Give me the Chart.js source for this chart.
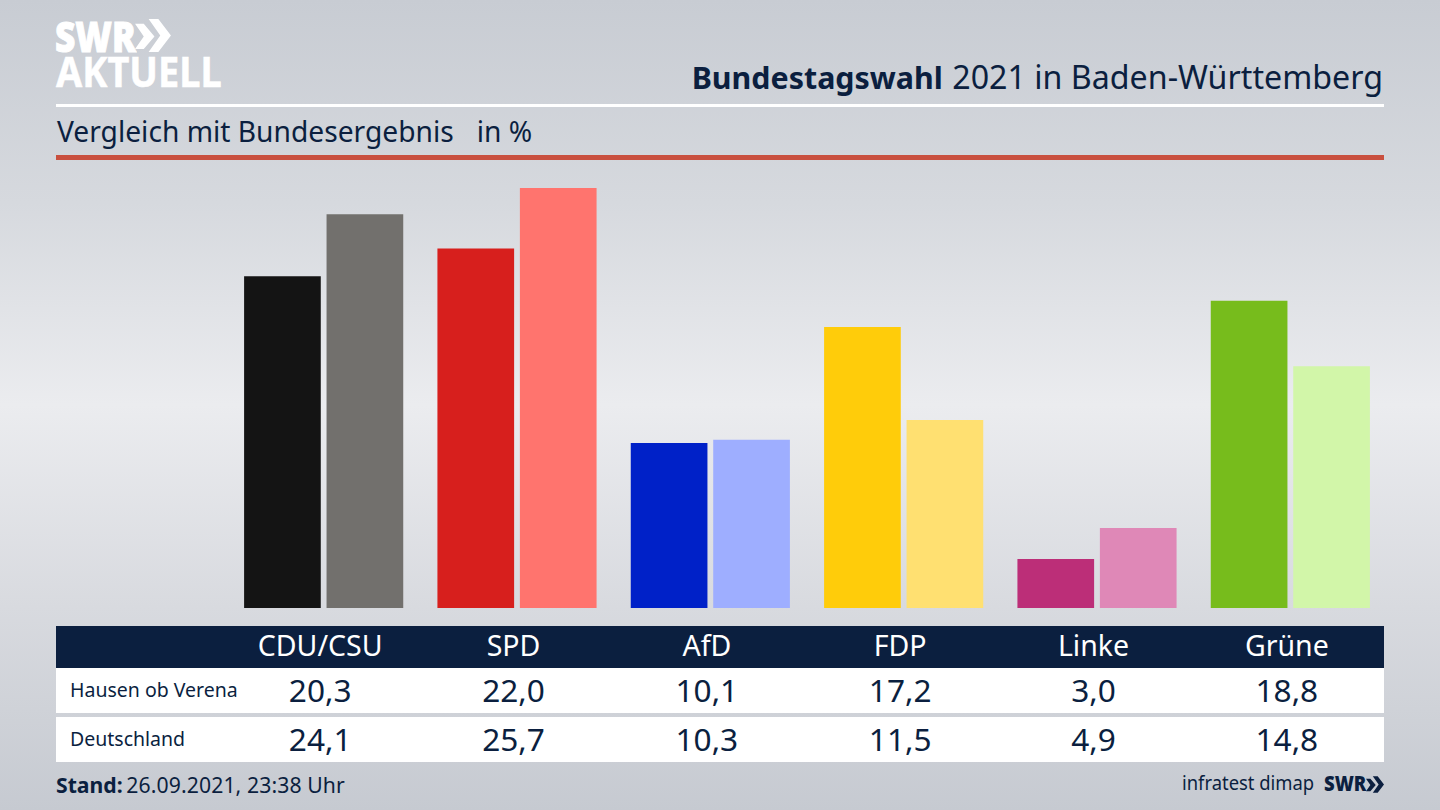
<!DOCTYPE html>
<html lang="de">
<head>
<meta charset="utf-8">
<title>Bundestagswahl 2021 in Baden-Württemberg</title>
<script src="https://cdn.jsdelivr.net/npm/chart.js@4"></script>
<style>
  html, body { margin: 0; padding: 0; }
  body {
    position: relative; width: 1440px; height: 810px; overflow: hidden;
    font-family: "Noto Sans", sans-serif; color: #0b1f3f;
    background: linear-gradient(180deg, #c8ccd3 0%, #d6d9de 25%, #ebecef 50%, #d8dadf 75%, #c6cad1 100%);
  }
  .abs { position: absolute; white-space: nowrap; line-height: 1; }
  .center { transform: translateX(-50%); }
  .box { position: absolute; left: 56px; width: 1328px; }
  #chartWrap { position: absolute; left: 227px; top: 160px; width: 1160px; height: 448px; }
  .logo { color: #fff; font-weight: 900; transform-origin: left top; }
</style>
</head>
<body>
<div class="abs logo" style="left:55px;top:14px;font-size:43px;transform:scaleX(0.82);-webkit-text-stroke:1px #fff;">SWR</div>
<svg class="abs" style="left:135px;top:19px" width="36" height="33" viewBox="0 0 37 34" fill="#fff">
  <path d="M0 5h9l11 13-11 13H0l9-13z"/><path d="M14 0h10l13 17-13 17H14l12-17z"/>
</svg>
<div class="abs logo" style="left:56px;top:51px;font-size:41px;font-weight:700;transform:scaleX(0.925);-webkit-text-stroke:0.5px #fff;">AKTUELL</div>

<div class="abs" style="right:57px;top:61px;font-size:32.2px;"><b style="font-size:30.4px;margin-right:1px;">Bundestagswahl</b> 2021 in Baden-Württemberg</div>
<div class="box" style="top:104px;height:3px;background:#fff;"></div>
<div class="abs" style="left:57px;top:117px;font-size:28.2px;">Vergleich mit Bundesergebnis<span style="margin-left:23px;">in %</span></div>
<div class="box" style="top:155px;height:5px;background:#c9503f;"></div>

<div id="chartWrap"><canvas id="chart"></canvas></div>

<div class="box" style="top:626px;height:42px;background:#0b1f3f;"></div>
<div class="box" style="top:668px;height:45px;background:#fff;"></div>
<div class="box" style="top:717px;height:45px;background:#fff;"></div>
<div id="tableText"></div>

<div class="abs" style="left:56px;top:774px;font-size:21.2px;"><b>Stand:</b><span style="margin-left:-2px;letter-spacing:0.1px;"> 26.09.2021, 23:38 Uhr</span></div>
<div class="abs" style="left:1182px;top:773px;font-size:20px;transform-origin:left top;transform:scaleX(0.92);">infratest dimap</div>
<div class="abs" style="left:1324px;top:773px;font-size:20.5px;font-weight:900;transform-origin:left top;transform:scaleX(0.9);">SWR</div>
<svg class="abs" style="left:1366px;top:776px" width="18" height="17" viewBox="0 0 37 34" fill="#0b1f3f">
  <path d="M0 5h9l11 13-11 13H0l9-13z"/><path d="M14 0h10l13 17-13 17H14l12-17z"/>
</svg>

<script>
// Werte aus der Grafik
const parties = ["CDU/CSU", "SPD", "AfD", "FDP", "Linke", "Grüne"];
const rowNames = ["Hausen ob Verena", "Deutschland"];
const hausen = [20.3, 22.0, 10.1, 17.2, 3.0, 18.8];
const deutschland = [24.1, 25.7, 10.3, 11.5, 4.9, 14.8];
const hausenColors = ["#141414", "#d71f1d", "#0021c8", "#ffcc0a", "#bc2e78", "#77bc1c"];
const deutschlandColors = ["#72706d", "#ff746e", "#9eaeff", "#ffe071", "#df88b7", "#d2f6a9"];
const yMax = 27.42;

const chart = new Chart(document.getElementById("chart"), {
  type: "bar",
  data: {
    labels: parties,
    datasets: [
      { label: rowNames[0], data: hausen, backgroundColor: hausenColors },
      { label: rowNames[1], data: deutschland, backgroundColor: deutschlandColors }
    ]
  },
  options: {
    responsive: true,
    maintainAspectRatio: false,
    animation: false,
    categoryPercentage: 0.853,
    barPercentage: 0.93,
    layout: { padding: 0 },
    plugins: { legend: { display: false }, tooltip: { enabled: false } },
    scales: {
      x: { display: false },
      y: { display: false, min: 0, max: yMax }
    }
  }
});

// Tabelle unter den Balken, Spalten folgen der x-Achse
const tableText = document.getElementById("tableText");
const wrapLeft = 227;
function addText(txt, style, cls) {
  const el = document.createElement("div");
  el.className = "abs " + (cls || "");
  el.textContent = txt;
  el.style.cssText = style;
  tableText.appendChild(el);
}
const comma = v => v.toFixed(1).replace(".", ",");
parties.forEach((p, i) => {
  const x = wrapLeft + chart.scales.x.getPixelForValue(i) - 3.5;
  addText(p, `left:${x}px;top:631px;font-size:28.5px;color:#fff;`, "center");
  addText(comma(hausen[i]), `left:${x}px;top:674px;font-size:31.6px;`, "center");
  addText(comma(deutschland[i]), `left:${x}px;top:723px;font-size:31.6px;`, "center");
});
addText(rowNames[0], "left:70px;top:680px;font-size:19.5px;");
addText(rowNames[1], "left:70px;top:729px;font-size:19.5px;");
</script>
</body>
</html>
